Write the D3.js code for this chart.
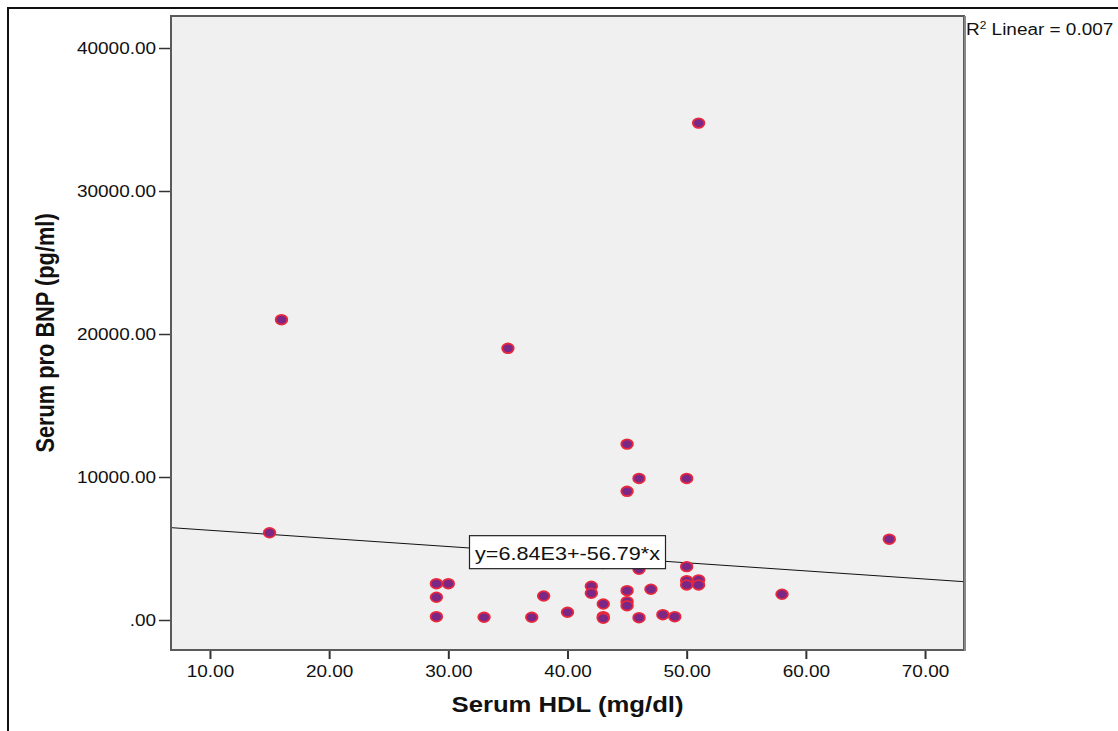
<!DOCTYPE html>
<html>
<head>
<meta charset="utf-8">
<script src="https://cdn.jsdelivr.net/npm/d3@7"></script>
<style>
  body { margin: 0; background: #fff; }
  svg text { font-family: "Liberation Sans", Arial, sans-serif; fill: #111; }
</style>
</head>
<body>
<div id="chart"></div>
<script>
// serum HDL (mg/dl) and serum pro BNP (pg/ml)
var hdl = [15, 16, 35, 45, 45, 46, 50, 51, 67, 58,
           29, 30, 29, 29, 33, 37, 38, 40, 42, 42,
           43, 43, 43, 43, 45, 45, 45, 46, 46, 47,
           48, 49, 50, 50, 50, 51, 51];
var bnp = [6100, 21000, 19000, 12300, 9000, 9900, 9900, 34750, 5650, 1800,
           2540, 2540, 1590, 230, 190, 190, 1680, 540, 2360, 1870,
           1120, 230, 120, 3950, 2050, 1280, 1000, 3550, 160, 2150,
           370, 230, 3730, 2750, 2450, 2800, 2450];

var xTicks = [10, 20, 30, 40, 50, 60, 70];
var yTicks = [0, 10000, 20000, 30000, 40000];

// fit line as printed on the chart
var intercept = 6840, slope = -56.79;
var eqLabel = "y=6.84E3+-56.79*x";
var r2Value = "0.007";

var W = 1118, H = 731;
var plot = {left: 171, top: 16, right: 964, bottom: 650};
var sx = 1.2; // glyphs in the source are stretched sideways

var svg = d3.select("#chart")
  .append("svg")
    .attr("width", W)
    .attr("height", H);

// outer frame
svg.append("rect")
    .attr("x", 8).attr("y", 8)
    .attr("width", 1300).attr("height", 900)
    .attr("fill", "none")
    .attr("stroke", "#111")
    .attr("stroke-width", 2);

var x = d3.scaleLinear()
    .domain([6.73, 73.27])
    .range([plot.left, plot.right]);

var y = d3.scaleLinear()
    .domain([-2098, 42238])
    .range([plot.bottom, plot.top]);

svg.append("rect")
    .attr("x", plot.left).attr("y", plot.top)
    .attr("width", plot.right - plot.left)
    .attr("height", plot.bottom - plot.top)
    .attr("fill", "#f0f0f0");

svg.append("clipPath").attr("id", "clip")
  .append("rect")
    .attr("x", plot.left).attr("y", plot.top)
    .attr("width", plot.right - plot.left)
    .attr("height", plot.bottom - plot.top);

// x axis
var gx = svg.append("g")
    .attr("transform", "translate(0," + plot.bottom + ")")
    .call(d3.axisBottom(x).tickValues(xTicks).tickSize(9).tickFormat(d3.format(".2f")));
gx.select(".domain").remove();
gx.selectAll(".tick line").attr("stroke", "#333").attr("stroke-width", 2);
gx.selectAll(".tick text")
    .attr("y", 27).attr("dy", 0)
    .attr("transform", "scale(" + sx + ",1)")
    .style("font-size", "15.8px");

// y axis
var gy = svg.append("g")
    .attr("transform", "translate(" + plot.left + ",0)")
    .call(d3.axisLeft(y).tickValues(yTicks).tickSize(12)
      .tickFormat(function (d) { return d === 0 ? ".00" : d3.format(".2f")(d); }));
gy.select(".domain").remove();
gy.selectAll(".tick line").attr("stroke", "#333").attr("stroke-width", 1.5);
gy.selectAll(".tick text")
    .attr("x", -15 / sx)
    .attr("transform", "scale(" + sx + ",1)")
    .style("font-size", "15.8px");

// fit line
var xd = x.domain();
svg.append("line")
    .attr("clip-path", "url(#clip)")
    .attr("x1", x(xd[0])).attr("y1", y(intercept + slope * xd[0]))
    .attr("x2", x(xd[1])).attr("y2", y(intercept + slope * xd[1]))
    .attr("stroke", "#111")
    .attr("stroke-width", 1);

// points
svg.append("g")
  .selectAll("ellipse")
  .data(hdl)
  .enter()
  .append("ellipse")
    .attr("cx", function (d) { return x(d); })
    .attr("cy", function (d, i) { return y(bnp[i]); })
    .attr("rx", 5.8)
    .attr("ry", 4.8)
    .attr("fill", "#7a2786")
    .attr("stroke", "#e8283c")
    .attr("stroke-width", 1.8);

// equation label box, centred on the line at x = 40
var lx = x(40), ly = y(intercept + slope * 40) - 2;
svg.append("rect")
    .attr("x", lx - 98).attr("y", ly - 17)
    .attr("width", 196).attr("height", 33)
    .attr("fill", "#fff")
    .attr("stroke", "#222")
    .attr("stroke-width", 1.2);
svg.append("text")
    .attr("transform", "translate(" + lx + "," + (ly + 7) + ") scale(" + sx + ",1)")
    .attr("text-anchor", "middle")
    .style("font-size", "18px")
    .text(eqLabel);

// frame border
svg.append("rect")
    .attr("x", plot.left).attr("y", plot.top)
    .attr("width", plot.right - plot.left)
    .attr("height", plot.bottom - plot.top)
    .attr("fill", "none")
    .attr("stroke", "#5a5a5a")
    .attr("stroke-width", 2);
svg.append("line")
    .attr("x1", plot.right + 1).attr("x2", plot.right + 1)
    .attr("y1", plot.top).attr("y2", plot.bottom + 1)
    .attr("stroke", "#888")
    .attr("stroke-width", 2);

// R squared
var r2 = svg.append("text")
    .attr("transform", "translate(966,35) scale(" + sx + ",1)")
    .style("font-size", "15.8px");
r2.append("tspan").text("R");
r2.append("tspan").attr("dy", -6).style("font-size", "10px").text("2");
r2.append("tspan").attr("dy", 6).text(" Linear = " + r2Value);

// axis titles
svg.append("text")
    .attr("transform", "translate(" + ((plot.left + plot.right) / 2) + ",712) scale(" + sx + ",1)")
    .attr("text-anchor", "middle")
    .style("font-size", "21.4px")
    .style("font-weight", "bold")
    .text("Serum HDL (mg/dl)");

svg.append("text")
    .attr("transform", "translate(54," + ((plot.top + plot.bottom) / 2) + ") scale(" + sx + ",1) rotate(-90)")
    .attr("text-anchor", "middle")
    .style("font-size", "21.8px")
    .style("font-weight", "bold")
    .text("Serum pro BNP (pg/ml)");
</script>
</body>
</html>
